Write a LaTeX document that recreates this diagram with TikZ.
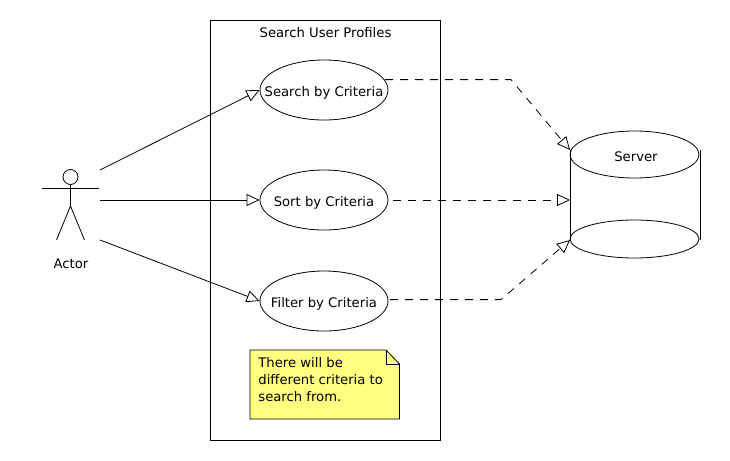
\documentclass[tikz,border=0pt]{standalone}
\usepackage{fontspec}
\setmainfont{DejaVu Sans}
\usetikzlibrary{shapes.geometric,arrows.meta}

\definecolor{noteyellow}{HTML}{FFFF80}

\begin{document}
\begin{tikzpicture}[x=1pt, y=-1pt, line width=0.8pt,
    font=\fontsize{13.2}{17}\selectfont,
    usecase/.style = {draw, ellipse, minimum width=128pt, minimum height=60pt, inner xsep=-20pt, inner ysep=0pt, text height=13pt, text depth=0pt},
    disk/.style = {draw, ellipse, minimum width=129pt, inner sep=0pt},
    assoc/.style = {-{Triangle[open,length=13pt,width=12pt]}},
    depend/.style = {assoc, dash pattern=on 8pt off 7pt}]
                  \useasboundingbox (0,0) rectangle (730,460);
                  \node[draw, minimum width=230pt, minimum height=420pt, inner sep=0pt] (system) at (325,230) {};
                  \node (title) at (325.5,32.5) {Search User Profiles};
                  \node[usecase] (search) at (324,90) {Search by Criteria};
                  \node[usecase] (sort) at (324,200) {Sort by Criteria};
                  \node[usecase] (filter) at (324,301) {Filter by Criteria};
                  % actor
                  \node[draw, circle, minimum size=15pt, inner sep=0pt] (head) at (70.5,177) {};
                  \coordinate (hip) at (70.5,206);
                  \coordinate (handL) at (42,188);
                  \coordinate (handR) at (99,188);
                  \coordinate (footL) at (56.5,240);
                  \coordinate (footR) at (84.5,240);
                  \draw (head) -- (hip);
                  \draw (handL) -- (handR);
                  \draw (footL) -- (hip) -- (footR);
                  \node (actor) at (71,264) {Actor};
                  % server
                  \node[disk, minimum height=47pt] (server) at (634.5,154.5) {};
                  \node (serverName) at (636,157) {Server};
                  \node[disk, minimum height=38pt] (base) at (634.5,239) {};
                  \coordinate (serverA) at (570,150);
                  \coordinate (serverB) at (570,200);
                  \coordinate (serverC) at (570,240);
                  \coordinate (serverD) at (700.5,150);
                  \coordinate (serverE) at (700.5,240);
                  \draw (serverA) -- (serverC);
                  \draw (serverD) -- (serverE);
                  % note
                  \draw[fill=noteyellow] (250,350) -- (386,350) -- (399.5,364) -- (399.5,419) -- (250,419) -- cycle;
                  \draw (386,350) -- (386,364) -- (399.5,364);
                  \node[anchor=north west, align=left, inner sep=0pt] (note) at (258,357) {There will be\\different criteria to\\search from.};
                  % actor to use cases
                  \coordinate (actorA) at (100,170);
                  \coordinate (actorB) at (100,200);
                  \coordinate (actorC) at (100,240);
                  \draw[assoc] (actorA) -- (search.west);
                  \draw[assoc] (actorB) -- (sort.west);
                  \draw[assoc] (actorC) -- (filter.west);
                  % use cases to server
                  \coordinate (searchOut) at (385,79.6);
                  \coordinate (sortOut) at (393,200);
                  \coordinate (filterOut) at (390,299.6);
                  \coordinate (bendA) at (511,79.6);
                  \coordinate (bendC) at (501,299.6);
                  \draw[depend] (searchOut) -- (bendA) -- (serverA);
                  \draw[depend] (sortOut) -- (serverB);
                  \draw[depend] (filterOut) -- (bendC) -- (serverC);
              \end{tikzpicture}
\end{document}
